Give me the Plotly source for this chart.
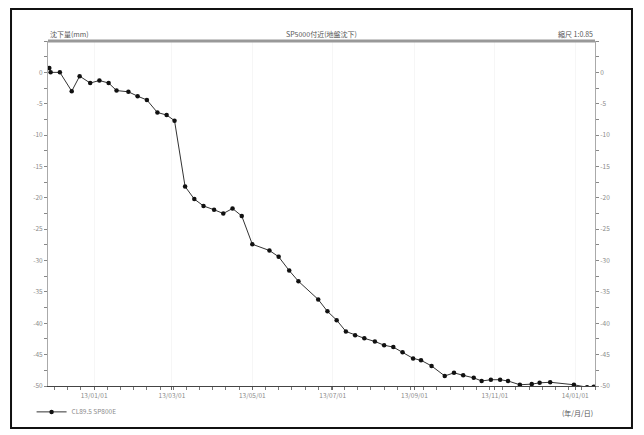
import plotly.graph_objects as go

# ---- data ----
dates = [
    "2012-11-28", "2012-11-29", "2012-12-06", "2012-12-15", "2012-12-21", "2012-12-29",
    "2013-01-05", "2013-01-12", "2013-01-18", "2013-01-27", "2013-02-03",
    "2013-02-10", "2013-02-18", "2013-02-25", "2013-03-03", "2013-03-11",
    "2013-03-18", "2013-03-25", "2013-04-02", "2013-04-09", "2013-04-16",
    "2013-04-23", "2013-05-01", "2013-05-14", "2013-05-21", "2013-05-29",
    "2013-06-05", "2013-06-20", "2013-06-27", "2013-07-04", "2013-07-11",
    "2013-07-18", "2013-07-25", "2013-08-02", "2013-08-09", "2013-08-16",
    "2013-08-23", "2013-08-31", "2013-09-06", "2013-09-14", "2013-09-24",
    "2013-10-01", "2013-10-08", "2013-10-16", "2013-10-22", "2013-10-29",
    "2013-11-05", "2013-11-11", "2013-11-20", "2013-11-29", "2013-12-05",
    "2013-12-13", "2013-12-31", "2014-01-10", "2014-01-15",
]
settlement = [
    0.7, 0.0, 0.0, -3.0, -0.6, -1.7,
    -1.3, -1.7, -2.9, -3.1, -3.8,
    -4.4, -6.4, -6.8, -7.7, -18.2,
    -20.2, -21.3, -21.9, -22.5, -21.7,
    -22.9, -27.4, -28.4, -29.4, -31.6,
    -33.3, -36.2, -38.1, -39.5, -41.3,
    -41.9, -42.4, -42.9, -43.5, -43.8,
    -44.6, -45.6, -45.9, -46.8, -48.4,
    -47.9, -48.3, -48.7, -49.2, -49.0,
    -49.0, -49.2, -49.8, -49.7, -49.5,
    -49.4, -49.8, -50.2, -50.1,
]
series_name = "CL89.5 SP800E"

x_tickvals = ["2013-01-01", "2013-03-01", "2013-05-01", "2013-07-01",
              "2013-09-01", "2013-11-01", "2014-01-01"]
x_ticktext = ["13/01/01", "13/03/01", "13/05/01", "13/07/01",
              "13/09/01", "13/11/01", "14/01/01"]
y_tickvals = [0, -5, -10, -15, -20, -25, -30, -35, -40, -45, -50]
y_ticktext = [str(v) for v in y_tickvals]
x_range = ["2012-11-27", "2014-01-16"]
y_range = [-50, 5]

title_left = "沈下量(mm)"
title_center = "SP5000付近(地盤沈下)"
title_right = "縮尺 1:0.85"
x_unit = "(年/月/日)"

FONT = "Noto Sans CJK JP, DejaVu Sans, sans-serif"
GRAY = "#8a8a8a"

fig = go.Figure()
fig.add_trace(go.Scatter(
    x=dates, y=settlement, mode="lines+markers", name=series_name,
    line=dict(color="#333333", width=1),
    marker=dict(color="#111111", size=4.5, symbol="circle"),
))
# invisible trace to drive the mirrored right axis
fig.add_trace(go.Scatter(x=dates, y=settlement, yaxis="y2", mode="lines",
                         line=dict(width=0), showlegend=False, hoverinfo="skip"))

axis_font = dict(family=FONT, size=6.5, color=GRAY)
fig.update_layout(
    width=644, height=435,
    margin=dict(l=40, r=57, t=33, b=57, autoexpand=False),
    paper_bgcolor="white", plot_bgcolor="white",
    font=dict(family=FONT, size=7, color=GRAY),
    showlegend=True,
    legend=dict(x=-0.03, y=-0.075, xanchor="left", yanchor="middle",
                orientation="h", font=dict(family=FONT, size=6.5, color=GRAY),
                bgcolor="rgba(0,0,0,0)", itemwidth=30),
    xaxis=dict(
        type="date", range=x_range, tickvals=x_tickvals, ticktext=x_ticktext,
        tickfont=axis_font, showgrid=True, gridcolor="#f6f6f6",
        showline=True, linecolor="#444444", linewidth=1,
        ticks="outside", ticklen=3, tickcolor="#666666",
        minor=dict(ticks="outside", ticklen=3, tickcolor="#777777",
                   dtick=864000000, tick0="2013-01-01", showgrid=False),
        zeroline=False,
    ),
    yaxis=dict(
        range=y_range, tickvals=y_tickvals, ticktext=y_ticktext,
        tickfont=axis_font, showgrid=False,
        showline=True, linecolor="#aaaaaa", linewidth=1,
        ticks="outside", ticklen=3, tickcolor="#888888",
        minor=dict(ticks="outside", ticklen=3, tickcolor="#888888",
                   dtick=2.5, tick0=0),
        zeroline=False,
    ),
    yaxis2=dict(
        range=y_range, tickvals=y_tickvals, ticktext=y_ticktext,
        overlaying="y", side="right", tickfont=axis_font, showgrid=False,
        showline=True, linecolor="#aaaaaa", linewidth=1,
        ticks="outside", ticklen=3, tickcolor="#888888",
        minor=dict(ticks="outside", ticklen=3, tickcolor="#888888",
                   dtick=2.5, tick0=0),
        zeroline=False,
    ),
)

# thick gray top rule
fig.add_shape(type="line", xref="paper", yref="paper", x0=0, x1=1, y0=1, y1=1,
              line=dict(color="#999999", width=3))
# outer black frame
fig.add_shape(type="rect", xref="paper", yref="paper",
              x0=-0.0676, x1=1.0676, y0=-0.1217, y1=1.0928,
              line=dict(color="#111111", width=2))

fig.add_annotation(text=title_left, xref="paper", yref="paper", x=0.0, y=1.0,
                   xanchor="left", yanchor="bottom", showarrow=False,
                   font=dict(family=FONT, size=7, color="#555555"))
fig.add_annotation(text=title_center, xref="paper", yref="paper", x=0.5, y=1.0,
                   xanchor="center", yanchor="bottom", showarrow=False,
                   font=dict(family=FONT, size=7, color="#555555"))
fig.add_annotation(text=title_right, xref="paper", yref="paper", x=1.0, y=1.0,
                   xanchor="right", yanchor="bottom", showarrow=False,
                   font=dict(family=FONT, size=7, color="#555555"))
fig.add_annotation(text=x_unit, xref="paper", yref="paper", x=1.0, y=-0.078,
                   xanchor="right", yanchor="middle", showarrow=False,
                   font=dict(family=FONT, size=7, color="#555555"))

fig.write_html("out.html")
